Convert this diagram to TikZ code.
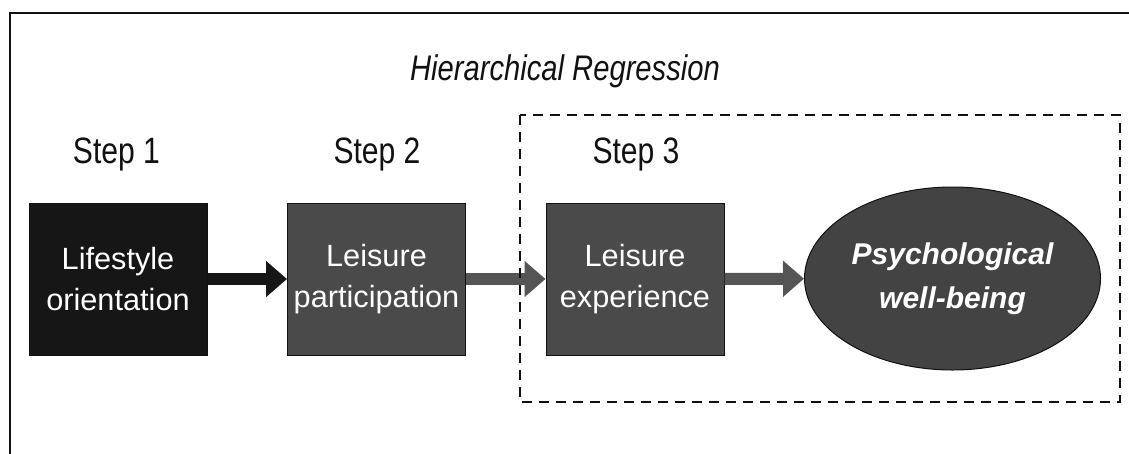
\documentclass[tikz,border=0pt]{standalone}
\usepackage{fontspec}
\setmainfont{Liberation Sans}
\newfontfamily\narrowsans[FakeStretch=0.82]{Liberation Sans}
\usepackage{xcolor}
\usepackage{tikz}
\usetikzlibrary{arrows.meta,shapes.geometric}
\definecolor{ink}{HTML}{111111}
\definecolor{lead}{HTML}{161616}
\definecolor{slate}{HTML}{4A4A4A}
\definecolor{oval}{HTML}{434343}
\definecolor{shaft}{HTML}{555555}
\tikzset{
  frame/.style={draw=ink, line width=2pt},
  dashbox/.style={draw=ink, line width=2pt, dash pattern=on 10pt off 7pt},
  stage/.style={rectangle, draw=ink, line width=1pt, fill=slate, text=white,
    minimum width=178pt, minimum height=152pt, inner sep=0pt, align=center,
    font=\fontsize{30.7}{41}\selectfont},
  outcome/.style={ellipse, draw=ink, line width=1pt, fill=oval, text=white,
    minimum width=296pt, minimum height=183pt, inner sep=0pt, align=center,
    font=\fontsize{30}{44}\selectfont\bfseries\itshape},
  link/.style={draw=shaft, line width=12pt,
    -{Triangle[length=21pt, width=35pt]}},
  steplab/.style={text=ink, anchor=base, inner sep=0pt,
    font=\narrowsans\fontsize{36.7}{40}\selectfont},
  heading/.style={text=ink, anchor=base, inner sep=0pt,
    font=\narrowsans\itshape\fontsize{35.6}{40}\selectfont},
}
\begin{document}
\begin{tikzpicture}[x=1pt,y=-1pt]
  \useasboundingbox (0,0) rectangle (1129,453);
  % open frame, only top and left edges show
  \draw[frame] (1140,13) -- (10,13) -- (10,470);

  \node[heading] (title) at (565,80) {Hierarchical Regression};

  \node[steplab] (s1) at (116.5,163) {Step 1};
  \node[steplab] (s2) at (377,163) {Step 2};
  \node[steplab] (s3) at (636,163) {Step 3};

  \node[stage, fill=lead] (life) at (118,279) {Lifestyle\\orientation};
  \node[stage] (part) at (376.5,279) {Leisure\\participation};
  \node[stage] (exp) at (635,279) {Leisure\\experience};
  \node[outcome] (pwb) at (952.5,278.5) {Psychological\\well-being};

  \draw[link, draw=lead] (life) -- (part);
  \draw[link] (part) -- (exp);
  \draw[link] (exp) -- (pwb);

  % step 3 block
  \draw[dashbox] (520,115) rectangle (1120,402);
\end{tikzpicture}
\end{document}
